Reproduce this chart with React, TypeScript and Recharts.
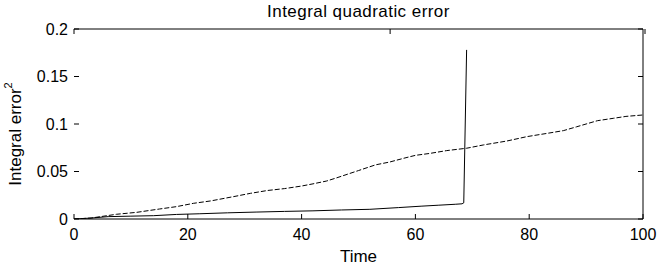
import { LineChart, Line, XAxis, YAxis } from "recharts";

// dashed curve (steady integral error)
const steadyTime = [0, 3, 7.5, 11, 15, 18, 21, 24, 28, 31, 34, 37, 40, 42, 44.4, 46, 48, 50, 51.5, 53, 55.5, 58, 60, 62.5, 65.5, 69, 72, 76, 79.6, 83, 86, 88.3, 90, 92, 94.8, 97, 100];
const steadyError = [0, 0.001, 0.005, 0.007, 0.0105, 0.013, 0.0165, 0.019, 0.0235, 0.027, 0.03, 0.032, 0.0347, 0.037, 0.04, 0.043, 0.047, 0.051, 0.054, 0.057, 0.06, 0.064, 0.067, 0.069, 0.072, 0.0745, 0.078, 0.082, 0.0867, 0.09, 0.093, 0.097, 0.1, 0.1035, 0.106, 0.108, 0.1095];

// solid curve (diverges at t≈69)
const burstTime = [0, 3, 6, 10, 14, 18, 22, 27, 32, 37, 42, 47, 52, 57, 61, 64, 67, 68.2, 68.5, 69];
const burstError = [0, 0.001, 0.0025, 0.003, 0.0035, 0.0048, 0.0055, 0.0065, 0.0073, 0.008, 0.0086, 0.0095, 0.0102, 0.012, 0.0135, 0.0145, 0.0155, 0.016, 0.017, 0.178];

const xTicks = [0, 20, 40, 60, 80, 100];
const yTicks = [0, 0.05, 0.1, 0.15, 0.2];

const steadyData = steadyTime.map((t, i) => ({ t, v: steadyError[i] }));
const burstData = burstTime.map((t, i) => ({ t, v: burstError[i] }));

const font = "'Liberation Sans', Arial, sans-serif";
const TICK = 5;

// ticks point inward, MATLAB style
function BottomTick(props: any) {
  const { x, y, payload } = props;
  const axisY = y - 12;
  return (
    <g>
      <line x1={x} x2={x} y1={axisY} y2={axisY - TICK} stroke="#000" />
      <text x={x} y={axisY + 21} textAnchor="middle" fontSize={16} fontFamily={font} fill="#000">{payload.value}</text>
    </g>
  );
}

function LeftTick(props: any) {
  const { x, y, payload } = props;
  const axisX = x + 6;
  return (
    <g>
      <line x1={axisX} x2={axisX + TICK} y1={y} y2={y} stroke="#000" />
      <text x={axisX - 6} y={y} textAnchor="end" dominantBaseline="central" fontSize={16} fontFamily={font} fill="#000">{payload.value}</text>
    </g>
  );
}

function TopTick(props: any) {
  const { x, y } = props;
  return <line x1={x} x2={x} y1={y} y2={y + TICK} stroke="#000" />;
}

function RightTick(props: any) {
  const { x, y } = props;
  return <line x1={x} x2={x - TICK} y1={y} y2={y} stroke="#000" />;
}

function YLabel() {
  return (
    <text
      x={15}
      y={134}
      transform="rotate(-90, 15, 134)"
      textAnchor="middle"
      dominantBaseline="central"
      fontSize={17}
      fontFamily={font}
      fill="#000"
    >
      Integral error
      <tspan fontSize={11} dy={-7}>2</tspan>
    </text>
  );
}

export default function App() {
  return (
    <div style={{ position: "absolute", left: 0, top: 0, background: "#fff" }}>
      <LineChart width={657} height={266} data={steadyData} margin={{ top: 28, right: 13, bottom: 0, left: 14 }}>
        <XAxis
          dataKey="t"
          type="number"
          domain={[0, 100]}
          ticks={xTicks}
          height={47}
          tick={<BottomTick />}
          tickLine={false}
          tickSize={0}
          tickMargin={12}
          stroke="#000"
          allowDataOverflow
          label={{ value: "Time", position: "insideBottom", offset: 4, fontSize: 17, fill: "#000", fontFamily: font }}
        />
        <XAxis
          xAxisId="top"
          orientation="top"
          type="number"
          domain={[0, 100]}
          ticks={xTicks}
          height={1}
          tick={<TopTick />}
          tickLine={false}
          tickSize={0}
          tickMargin={0}
          stroke="#000"
          allowDataOverflow
          label={{ value: "Integral quadratic error", position: "top", offset: 11, fontSize: 17, fill: "#000", fontFamily: font, letterSpacing: 0.45 }}
        />
        <YAxis
          type="number"
          domain={[0, 0.2]}
          ticks={yTicks}
          width={60}
          tick={<LeftTick />}
          tickLine={false}
          tickSize={0}
          tickMargin={6}
          axisLine={false}
          allowDataOverflow
          label={<YLabel />}
        />
        <YAxis
          yAxisId="right"
          orientation="right"
          type="number"
          domain={[0, 0.2]}
          ticks={yTicks}
          width={1}
          tick={<RightTick />}
          tickLine={false}
          tickSize={0}
          tickMargin={0}
          stroke="#000"
          allowDataOverflow
        />
        <Line data={steadyData} dataKey="v" type="linear" stroke="#000" strokeWidth={1} strokeDasharray="5 2" dot={false} isAnimationActive={false} />
        <Line data={burstData} dataKey="v" type="linear" stroke="#000" strokeWidth={1} dot={false} isAnimationActive={false} />
      </LineChart>
    </div>
  );
}
